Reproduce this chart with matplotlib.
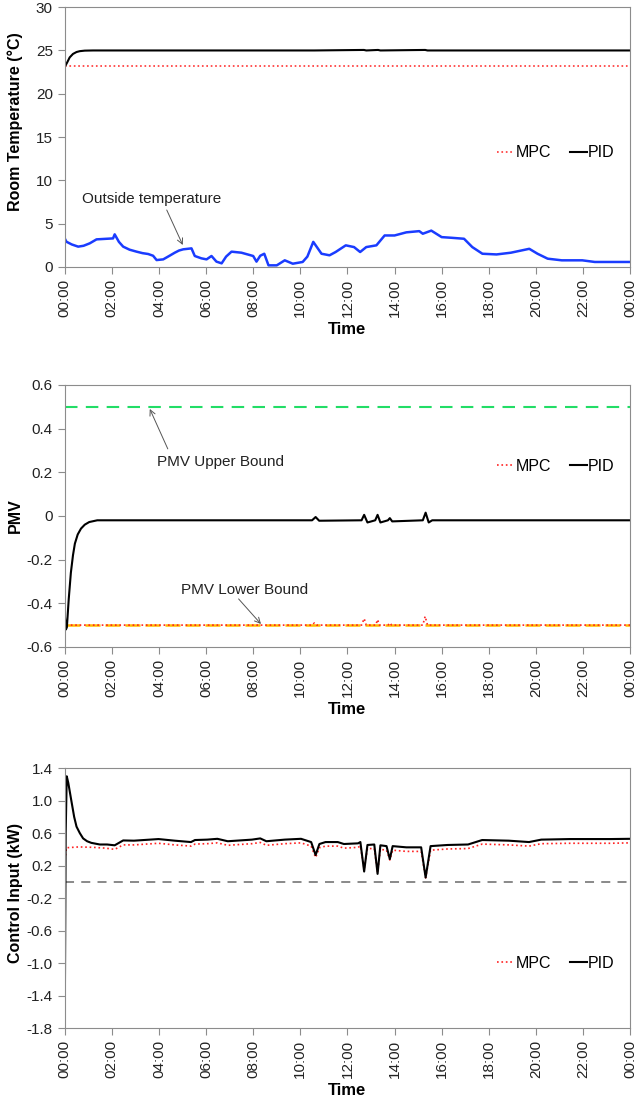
import numpy as np
import matplotlib.pyplot as plt

plt.rcParams['font.family'] = ['Liberation Sans', 'DejaVu Sans']

# ---- data (hours since midnight) ----

# panel 1 : room temperature
t_pid1 = [0, 0.1, 0.21, 0.35, 0.5, 0.64, 0.85, 1.2, 4, 8, 10.6, 12.7, 12.8, 13.3, 13.4, 15.3, 15.4, 18, 24]
pid1 = [23.1, 23.6, 24.2, 24.6, 24.82, 24.92, 24.98, 25.0, 25.0, 25.0, 25.0, 25.06, 25.0, 25.06, 25.0, 25.06, 25.0, 25.0, 25.0]
t_mpc1 = [0, 24]
mpc1 = [23.2, 23.2]

t_out = [0, 0.07, 0.3, 0.57, 0.8, 1.06, 1.35, 1.73, 2.05, 2.12, 2.3, 2.48, 2.75, 3.05, 3.3, 3.54, 3.75,
         3.9, 4.18, 4.45, 4.67, 4.85, 5.03, 5.38, 5.52, 5.8, 6.02, 6.23, 6.44, 6.66, 6.85, 7.08,
         7.5, 8.0, 8.14, 8.3, 8.47, 8.65, 9.0, 9.34, 9.68, 10.1, 10.3, 10.55, 10.9, 11.24,
         11.5, 11.93, 12.28, 12.54, 12.8, 13.23, 13.58, 14.0, 14.5, 15.05, 15.2, 15.56, 16.0,
         16.43, 16.95, 17.3, 17.73, 18.33, 18.94, 19.72, 20.07, 20.5, 21.1, 21.97, 22.5, 23.2, 24.0]
outside = [3.3, 2.92, 2.6, 2.35, 2.45, 2.73, 3.19, 3.25, 3.3, 3.77, 2.9, 2.35, 2.0, 1.77, 1.6, 1.5, 1.3,
           0.8, 0.88, 1.3, 1.65, 1.9, 2.04, 2.15, 1.27, 1.0, 0.88, 1.27, 0.62, 0.42, 1.2, 1.77,
           1.65, 1.27, 0.62, 1.3, 1.53, 0.19, 0.19, 0.77, 0.38, 0.58, 1.2, 2.9, 1.53, 1.35,
           1.73, 2.5, 2.3, 1.73, 2.3, 2.5, 3.64, 3.64, 4.0, 4.14, 3.84, 4.2, 3.45,
           3.37, 3.26, 2.3, 1.53, 1.45, 1.65, 2.1, 1.53, 0.96, 0.77, 0.77, 0.58, 0.58, 0.58]

# panel 2 : PMV
t_pid2 = [0, 0.05, 0.09, 0.17, 0.26, 0.35, 0.43, 0.55, 0.69, 0.85, 1.04, 1.38, 5, 10.5, 10.65, 10.8,
          12.6, 12.71, 12.85, 13.18, 13.28, 13.4, 13.72, 13.8, 13.9, 15.2, 15.32, 15.45, 15.6, 18, 24]
pid2 = [-0.45, -0.52, -0.51, -0.38, -0.26, -0.18, -0.127, -0.085, -0.058, -0.04, -0.028, -0.02, -0.02,
        -0.02, -0.005, -0.022, -0.02, 0.005, -0.03, -0.02, 0.005, -0.03, -0.02, -0.01, -0.025,
        -0.02, 0.015, -0.03, -0.02, -0.02, -0.02]
t_mpc2 = [0, 0.03, 0.06, 10.5, 10.6, 10.7, 12.6, 12.71, 12.8, 13.2, 13.28, 13.36, 13.72, 13.8, 13.88,
          15.2, 15.3, 15.4, 24]
mpc2 = [-0.42, -0.52, -0.5, -0.5, -0.49, -0.5, -0.5, -0.47, -0.5, -0.5, -0.475, -0.5, -0.5, -0.49, -0.5,
        -0.5, -0.46, -0.5, -0.5]
pmv_upper = 0.5
pmv_lower = -0.5

# panel 3 : control input
t_pid3 = [0, 0.04, 0.085, 0.15, 0.28, 0.4, 0.5, 0.64, 0.78, 0.95, 1.13, 1.49, 1.8, 2.12, 2.48, 2.94,
          3.98, 4.67, 5.36, 5.53, 6.05, 6.48, 6.92, 7.95, 8.3, 8.56, 9.34, 10.03, 10.46, 10.65,
          10.81, 11.07, 11.59, 11.85, 12.45, 12.55, 12.71, 12.85, 13.14, 13.28, 13.4, 13.66,
          13.8, 13.92, 14.5, 15.13, 15.32, 15.53, 16.25, 17.12, 17.72, 18.85, 19.71, 20.23,
          21.44, 23.17, 24.0]
pid3 = [-1.8, 0.6, 1.3, 1.22, 1.0, 0.8, 0.68, 0.6, 0.535, 0.5, 0.48, 0.46, 0.46, 0.45, 0.51, 0.507,
        0.527, 0.507, 0.49, 0.515, 0.52, 0.53, 0.5, 0.52, 0.535, 0.5, 0.52, 0.53, 0.49, 0.33,
        0.466, 0.49, 0.49, 0.466, 0.474, 0.49, 0.127, 0.454, 0.46, 0.098, 0.45, 0.44,
        0.28, 0.44, 0.425, 0.425, 0.053, 0.44, 0.454, 0.46, 0.515, 0.507, 0.49, 0.52,
        0.527, 0.527, 0.53]
t_mpc3 = [0, 0.02, 0.07, 0.6, 1.21, 1.73, 2.12, 2.48, 2.94, 3.98, 4.67, 5.36, 5.53, 6.05, 6.48, 6.92,
          7.95, 8.3, 8.56, 9.34, 10.03, 10.46, 10.65, 10.81, 11.07, 11.59, 11.85, 12.45, 12.55,
          12.71, 12.85, 13.14, 13.28, 13.4, 13.66, 13.8, 13.92, 14.5, 15.13, 15.32, 15.53, 16.25,
          17.12, 17.72, 18.85, 19.71, 20.23, 21.44, 23.17, 24.0]
mpc3 = [0.0, 0.3, 0.42, 0.43, 0.425, 0.415, 0.4, 0.455, 0.455, 0.475, 0.455, 0.44, 0.465, 0.47, 0.48,
        0.45, 0.47, 0.485, 0.45, 0.47, 0.48, 0.44, 0.3, 0.42, 0.44, 0.44, 0.415, 0.425, 0.44,
        0.16, 0.41, 0.41, 0.12, 0.4, 0.39, 0.27, 0.39, 0.375, 0.375, 0.05, 0.39, 0.405, 0.41,
        0.465, 0.455, 0.44, 0.47, 0.475, 0.475, 0.48]
zero_line = 0.0

xticks = np.arange(0, 25, 2)
xlabels = ['%02d:00' % (h % 24) for h in xticks]

# ---- figure ----

fig = plt.figure(figsize=(6.41, 11.01), dpi=100)
left, width = 0.101, 0.882
ax1 = fig.add_axes([left, 0.7575, width, 0.236])
ax2 = fig.add_axes([left, 0.4124, width, 0.238])
ax3 = fig.add_axes([left, 0.0663, width, 0.236])

arrow = dict(arrowstyle='->', color='#555555', lw=0.7, shrinkA=0, shrinkB=0)


def style(ax, ylabel, ly):
    ax.set_xlim(0, 24)
    ax.set_xticks(xticks)
    ax.set_xticklabels(xlabels, rotation=90)
    for s in ax.spines.values():
        s.set_color('#8c8c8c')
    ax.tick_params(direction='out', length=5, color='#8c8c8c', labelsize=11, labelcolor='#222222')
    ax.set_xlabel('Time', fontsize=12, fontweight='bold')
    ax.set_ylabel(ylabel, fontsize=11.5, fontweight='bold')
    ax.yaxis.set_label_coords(-0.074, ly)
    ax.legend(loc='center right', ncol=2, frameon=False, fontsize=11.5, borderaxespad=0, borderpad=0,
              handlelength=1.05, handletextpad=0.08, columnspacing=1.2)


def place_legend(ax, y):
    ax.get_legend().set_bbox_to_anchor((0.973, y), transform=ax.transAxes)


# room temperature
ax1.plot(t_out, outside, color='#1a3cff', lw=1.8)
ax1.plot(t_mpc1, mpc1, color='#ff3333', lw=1.2, ls=':', label='MPC')
ax1.plot(t_pid1, pid1, color='black', lw=1.5, label='PID')
ax1.set_ylim(0, 30)
ax1.set_yticks(range(0, 31, 5))
ax1.text(3.7, 7.85, 'Outside temperature', fontsize=11, ha='center', va='center', color='#222222')
ax1.annotate('', xy=(5.01, 2.54), xytext=(4.33, 6.58), arrowprops=arrow)
style(ax1, 'Room Temperature (°C)', 0.56)
place_legend(ax1, 0.44)

# PMV
ax2.axhline(pmv_upper, color='#22dd66', lw=1.5, ls=(0, (6, 4)))
ax2.axhline(pmv_lower, color='#ffbb00', lw=1.8, ls=(0, (6, 2)))
ax2.plot(t_mpc2, mpc2, color='#ff2222', lw=1.2, ls=':', label='MPC')
ax2.plot(t_pid2, pid2, color='black', lw=1.5, label='PID')
ax2.set_ylim(-0.6, 0.6)
ax2.set_yticks([-0.6, -0.4, -0.2, 0, 0.2, 0.4, 0.6])
ax2.set_yticklabels(['-0.6', '-0.4', '-0.2', '0', '0.2', '0.4', '0.6'])
ax2.text(6.63, 0.247, 'PMV Upper Bound', fontsize=11, ha='center', va='center', color='#222222')
ax2.annotate('', xy=(3.61, 0.49), xytext=(4.375, 0.307), arrowprops=arrow)
ax2.text(7.65, -0.339, 'PMV Lower Bound', fontsize=11, ha='center', va='center', color='#222222')
ax2.annotate('', xy=(8.33, -0.495), xytext=(7.38, -0.38), arrowprops=arrow)
style(ax2, 'PMV', 0.5)
place_legend(ax2, 0.69)

# control input
ax3.axhline(zero_line, color='#808080', lw=1.3, ls=(0, (5, 4)))
ax3.plot(t_mpc3, mpc3, color='#ff2222', lw=1.2, ls=':', label='MPC')
ax3.plot(t_pid3, pid3, color='black', lw=1.5, label='PID')
ax3.set_ylim(-1.8, 1.4)
ax3.set_yticks(np.arange(-1.8, 1.41, 0.4))
ax3.set_yticklabels(['%.1f' % v for v in np.arange(-1.8, 1.41, 0.4)])
style(ax3, 'Control Input (kW)', 0.52)
place_legend(ax3, 0.25)

fig.savefig('out.png', dpi=100)
